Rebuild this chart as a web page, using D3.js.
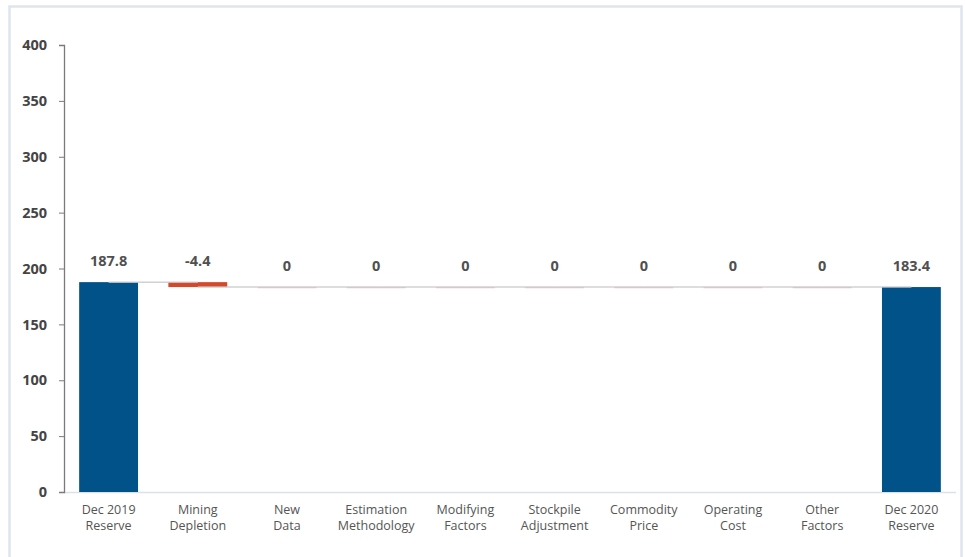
<!DOCTYPE html>
<html>
<head>
<meta charset="utf-8">
<script src="https://cdn.jsdelivr.net/npm/d3@7"></script>
<style>
  html, body { margin: 0; padding: 0; background: #fff; }
  svg { display: block; font-family: "Open Sans", "Noto Sans", sans-serif; }
</style>
</head>
<body>
<svg id="chart" width="965" height="557"></svg>
<script>
// Reserve bridge: opening balance, movements, closing balance
const categories = [
  "Dec 2019\nReserve", "Mining\nDepletion", "New\nData", "Estimation\nMethodology",
  "Modifying\nFactors", "Stockpile\nAdjustment", "Commodity\nPrice", "Operating\nCost",
  "Other\nFactors", "Dec 2020\nReserve"
];
const values = [187.8, -4.4, 0, 0, 0, 0, 0, 0, 0, 183.4];
const kinds = ["total", "delta", "delta", "delta", "delta", "delta", "delta", "delta", "delta", "total"];
const valueLabels = ["187.8", "-4.4", "0", "0", "0", "0", "0", "0", "0", "183.4"];
const yTicks = [0, 50, 100, 150, 200, 250, 300, 350, 400];

const svg = d3.select("#chart");
const plotLeft = 64, plotRight = 956, plotTop = 45, plotBottom = 492;

// panel frame
svg.append("rect")
  .attr("x", 9.5).attr("y", 6.5).attr("width", 952).attr("height", 600)
  .attr("fill", "none").attr("stroke", "#dfe5ee").attr("stroke-width", 2.5);

const x = d3.scaleBand().domain(categories).range([plotLeft, plotRight])
  .paddingInner(0.34).paddingOuter(0.17);
const y = d3.scaleLinear().domain([0, 400]).range([plotBottom, plotTop]);

// running levels for the bridge
let level = 0;
const bars = categories.map((c, i) => {
  let y0, y1;
  if (kinds[i] === "total") { y0 = 0; y1 = values[i]; level = values[i]; }
  else { y0 = level; y1 = level + values[i]; level = y1; }
  return { c, i, y0, y1, end: level, kind: kinds[i], v: values[i], label: valueLabels[i] };
});

// x baseline
svg.append("line")
  .attr("x1", plotLeft).attr("x2", plotRight).attr("y1", plotBottom + 0.5).attr("y2", plotBottom + 0.5)
  .attr("stroke", "#dde1e6").attr("stroke-width", 1.5);

// bars
svg.append("g").selectAll("rect").data(bars).join("rect")
  .attr("x", d => x(d.c))
  .attr("width", x.bandwidth())
  .attr("y", d => y(Math.max(d.y0, d.y1)))
  .attr("height", d => Math.abs(y(d.y0) - y(d.y1)))
  .attr("fill", d => d.kind === "total" ? "#005289" : "#d4492a");

// zero movements shown as faint marks
svg.append("g").selectAll("line").data(bars.filter(d => d.kind === "delta" && d.v === 0)).join("line")
  .attr("x1", d => x(d.c)).attr("x2", d => x(d.c) + x.bandwidth())
  .attr("y1", d => y(d.y1) + 0.5).attr("y2", d => y(d.y1) + 0.5)
  .attr("stroke", "#e7c9c4").attr("stroke-width", 1.2);

// connectors between bar centres
const half = x.bandwidth() / 2;
svg.append("g").selectAll("line").data(bars.slice(0, -1)).join("line")
  .attr("x1", d => x(d.c) + half)
  .attr("x2", d => x(categories[d.i + 1]) + half)
  .attr("y1", d => y(d.end)).attr("y2", d => y(d.end))
  .attr("stroke", "#c9c9cb").attr("stroke-width", 1.5).attr("stroke-opacity", 0.85);

// value labels
svg.append("g").selectAll("text").data(bars).join("text")
  .attr("x", d => x(d.c) + half)
  .attr("y", d => y(Math.max(d.y0, d.y1)) - 16)
  .attr("text-anchor", "middle")
  .attr("font-size", 14.5).attr("font-weight", 700).attr("fill", "#505050")
  .text(d => d.label);

// y axis
const yAxis = d3.axisLeft(y).tickValues(yTicks).tickSize(5).tickPadding(12);
const gy = svg.append("g").attr("transform", `translate(${plotLeft},0)`).call(yAxis);
gy.select(".domain").attr("stroke", "#7a7a7a").attr("stroke-width", 1.3);
gy.selectAll(".tick line").attr("stroke", "#7a7a7a");
gy.selectAll(".tick text")
  .attr("font-size", 14.5).attr("font-weight", 700).attr("fill", "#444")
  .attr("font-family", "\"Open Sans\", \"Noto Sans\", sans-serif");

// category labels, two lines each
const xl = svg.append("g").selectAll("text").data(categories).join("text")
  .attr("x", d => x(d) + half)
  .attr("y", plotBottom + 22)
  .attr("text-anchor", "middle")
  .attr("font-size", 12.5).attr("fill", "#555");
xl.selectAll("tspan").data(d => d.split("\n").map(t => ({ t, p: d }))).join("tspan")
  .attr("x", d => x(d.p) + half)
  .attr("dy", (d, i) => i === 0 ? 0 : 16)
  .text(d => d.t);
</script>
</body>
</html>
